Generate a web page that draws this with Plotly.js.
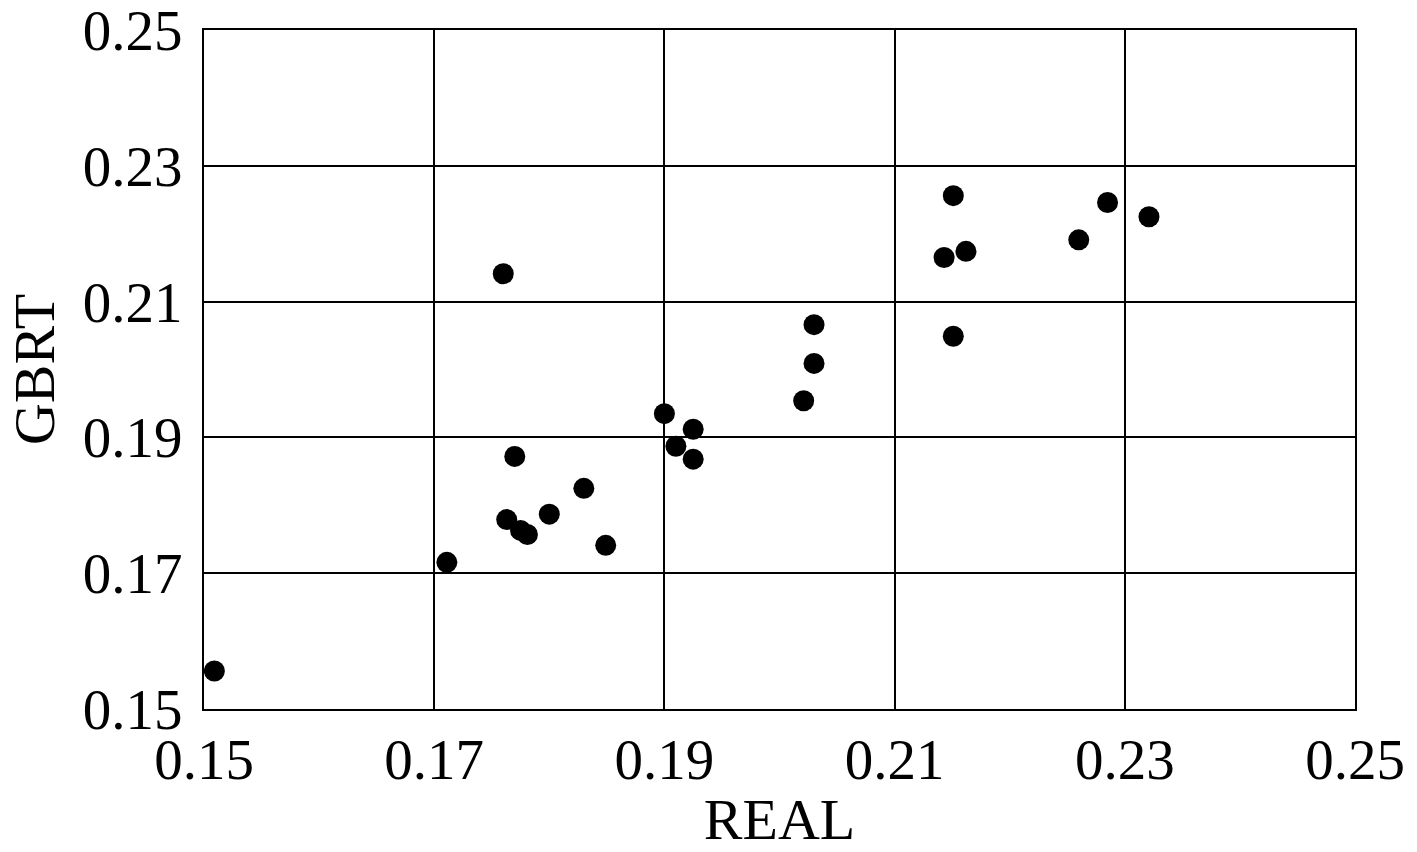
<!DOCTYPE html>
<html>
<head>
<meta charset="utf-8">
<script src="https://cdn.plot.ly/plotly-3.0.1.min.js"></script>
<style>
  html, body { margin: 0; padding: 0; background: #fff; }
  #chart { width: 1417px; height: 852px; }
</style>
</head>
<body>
<div id="chart"></div>
<script>
// REAL vs GBRT values
var realValues = [0.1509, 0.1711, 0.1760, 0.1770, 0.1763, 0.1775, 0.1781, 0.1800,
                  0.1830, 0.1849, 0.1900, 0.1910, 0.1925, 0.1925, 0.2021, 0.2030,
                  0.2030, 0.2151, 0.2143, 0.2162, 0.2151, 0.2260, 0.2285, 0.2321];
var gbrtValues = [0.1556, 0.1716, 0.2141, 0.1872, 0.1779, 0.1763, 0.1757, 0.1787,
                  0.1825, 0.1741, 0.1935, 0.1887, 0.1912, 0.1868, 0.1954, 0.2009,
                  0.2066, 0.2256, 0.2165, 0.2174, 0.2049, 0.2191, 0.2246, 0.2225];

var tickVals = [0.15, 0.17, 0.19, 0.21, 0.23, 0.25];
var tickText = ['0.15', '0.17', '0.19', '0.21', '0.23', '0.25'];

var trace = {
  x: realValues,
  y: gbrtValues,
  type: 'scatter',
  mode: 'markers',
  marker: { color: '#000', size: 21, symbol: 'circle' },
  hoverinfo: 'none',
  showlegend: false
};

var tickFont = { family: 'Liberation Serif, Times New Roman, serif', size: 57, color: '#000' };
var titleFont = { family: 'Liberation Serif, Times New Roman, serif', size: 58, color: '#000' };

var layout = {
  width: 1417,
  height: 852,
  margin: { l: 204, r: 62, t: 30, b: 143 },
  paper_bgcolor: '#fff',
  plot_bgcolor: '#fff',
  font: tickFont,
  xaxis: {
    range: [0.15, 0.25],
    tickvals: tickVals,
    ticktext: tickText,
    showgrid: true,
    gridcolor: '#000',
    gridwidth: 2,
    zeroline: false,
    showline: true,
    linecolor: '#000',
    linewidth: 2,
    mirror: true,
    ticks: '',
    ticklabelstandoff: 0,
    ticklabeloverflow: 'allow',
    tickfont: tickFont,
    title: { text: 'REAL', font: titleFont, standoff: 0 }
  },
  yaxis: {
    range: [0.15, 0.25],
    tickvals: tickVals,
    ticktext: tickText,
    showgrid: true,
    gridcolor: '#000',
    gridwidth: 2,
    zeroline: false,
    showline: true,
    linecolor: '#000',
    linewidth: 2,
    mirror: true,
    ticks: '',
    ticklabelstandoff: 8,
    ticklabeloverflow: 'allow',
    tickfont: tickFont,
    title: { text: 'GBRT', font: titleFont, standoff: 10 }
  }
};

Plotly.newPlot('chart', [trace], layout, { staticPlot: true });
</script>
</body>
</html>
